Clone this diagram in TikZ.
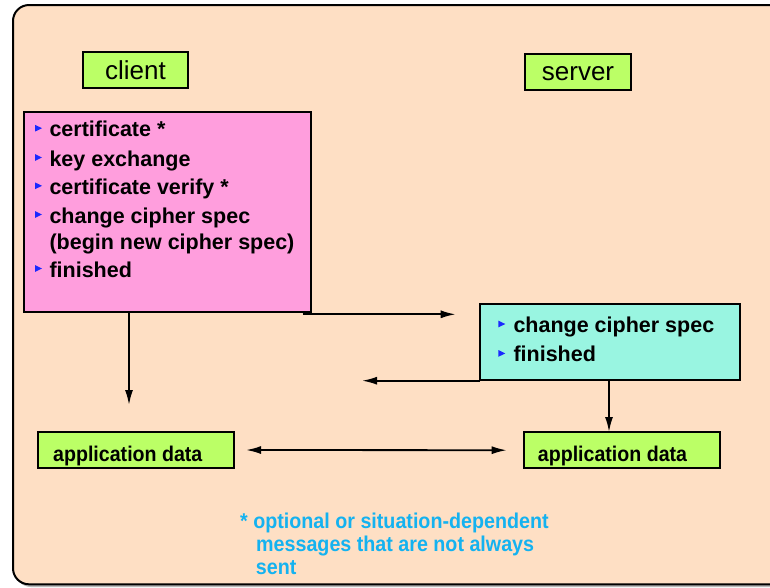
\documentclass[tikz,border=0pt]{standalone}
\usepackage{fontspec}
\setmainfont{Liberation Sans}
\newfontfamily\narrowfont[FakeStretch=0.92]{Liberation Sans}
\usetikzlibrary{calc,arrows.meta}
\definecolor{peach}{RGB}{254,223,196}
\definecolor{lime}{RGB}{187,255,102}
\definecolor{pinkbox}{RGB}{255,158,221}
\definecolor{aqua}{RGB}{153,245,225}
\definecolor{bulblue}{RGB}{26,40,255}
\definecolor{noteblue}{RGB}{20,178,240}

\begin{document}
\begin{tikzpicture}[x=1pt,y=-1pt,
  box/.style={draw=black,line width=2pt,inner sep=0pt,outer sep=0pt,anchor=north west},
  item/.style={anchor=base west,inner sep=0pt,font=\fontsize{21.5}{26}\selectfont\bfseries},
  title/.style={anchor=base,inner sep=0pt,font=\fontsize{26}{30}\selectfont},
  datatxt/.style={anchor=base west,inner sep=0pt,font=\narrowfont\fontsize{21.3}{24}\selectfont\bfseries},
  note/.style={anchor=base west,inner sep=0pt,text=noteblue,font=\narrowfont\fontsize{21.4}{24}\selectfont\bfseries},
  arr/.style={line width=1.8pt,-{Latex[length=15pt,width=8pt]}},
  dblarr/.style={line width=1.8pt,{Latex[length=15pt,width=8pt]}-{Latex[length=15pt,width=8pt]}},
  bul/.pic={\fill[bulblue] (0,-3.4) -- (7,0) -- (0,3.4) -- cycle;}
]
\useasboundingbox (0,0) rectangle (770,587);

% panel with its shadow
\fill[gray!55,rounded corners=16pt] (15,8) rectangle (800,587);
\draw[fill=peach,line width=2pt,rounded corners=16pt] (13,5) rectangle (800,584.3);

% boxes
\node[box,fill=lime,minimum width=105pt,minimum height=36.6pt] (clientbox) at (83,51.7) {};
\node[box,fill=lime,minimum width=106pt,minimum height=36.6pt] (serverbox) at (525,53.7) {};
\node[box,fill=pinkbox,minimum width=287pt,minimum height=200.6pt] (pink) at (23.7,111.7) {};
\node[box,fill=aqua,minimum width=260pt,minimum height=75.4pt] (cyan) at (480,304.3) {};
\node[box,fill=lime,minimum width=196.3pt,minimum height=36.6pt] (appL) at (37.7,431.7) {};
\node[box,fill=lime,minimum width=196.3pt,minimum height=36.4pt] (appR) at (523.7,432) {};

% titles
\node[title] (clienttxt) at (135.5,79) {client};
\node[title] (servertxt) at (578,80.7) {server};

% client messages
\node[item] (c1) at (49.3,136.7) {certificate *};
\node[item] (c2) at (49.3,166) {key exchange};
\node[item] (c3) at (49.3,194.3) {certificate verify *};
\node[item] (c4) at (49.3,223) {change cipher spec};
\node[item] (c5) at (49.3,249.3) {(begin new cipher spec)};
\node[item] (c6) at (49.3,277) {finished};
\foreach \n in {c1,c2,c3,c4,c6}
  \pic at ($(\n.base west)+(-14.3,-8.5)$) {bul};

% server messages
\node[item] (s1) at (513.3,332.3) {change cipher spec};
\node[item] (s2) at (513.3,361.7) {finished};
\foreach \n in {s1,s2}
  \pic at ($(\n.base west)+(-15,-8.3)$) {bul};

% application data
\node[datatxt] (appLtxt) at (53,461) {application data};
\node[datatxt] (appRtxt) at (537.7,461) {application data};

% footnote
\node[note] (n1) at (240,528.3) {* optional or situation-dependent};
\node[note] (n2) at (256,551) {messages that are not always};
\node[note] (n3) at (255.7,574) {sent};

% connectors
\coordinate (ldown) at (129,405);
\coordinate (toServer) at (455.7,314.3);
\coordinate (toClient) at (362,380.7);
\coordinate (sx) at (609,0);
\draw[arr] (pink.south -| ldown) -- (ldown);
\draw[arr] ($(pink.south east)+(-8,2)$) -- (toServer);
\draw[arr] ($(cyan.south west)+(0,1)$) -- (toClient);
\draw[arr] (cyan.south -| sx) -- (appR.north -| sx);
\draw[dblarr] ($(appL.east)+(12,0)$) -- ($(appR.west)+(-17,0)$);
\end{tikzpicture}
\end{document}
